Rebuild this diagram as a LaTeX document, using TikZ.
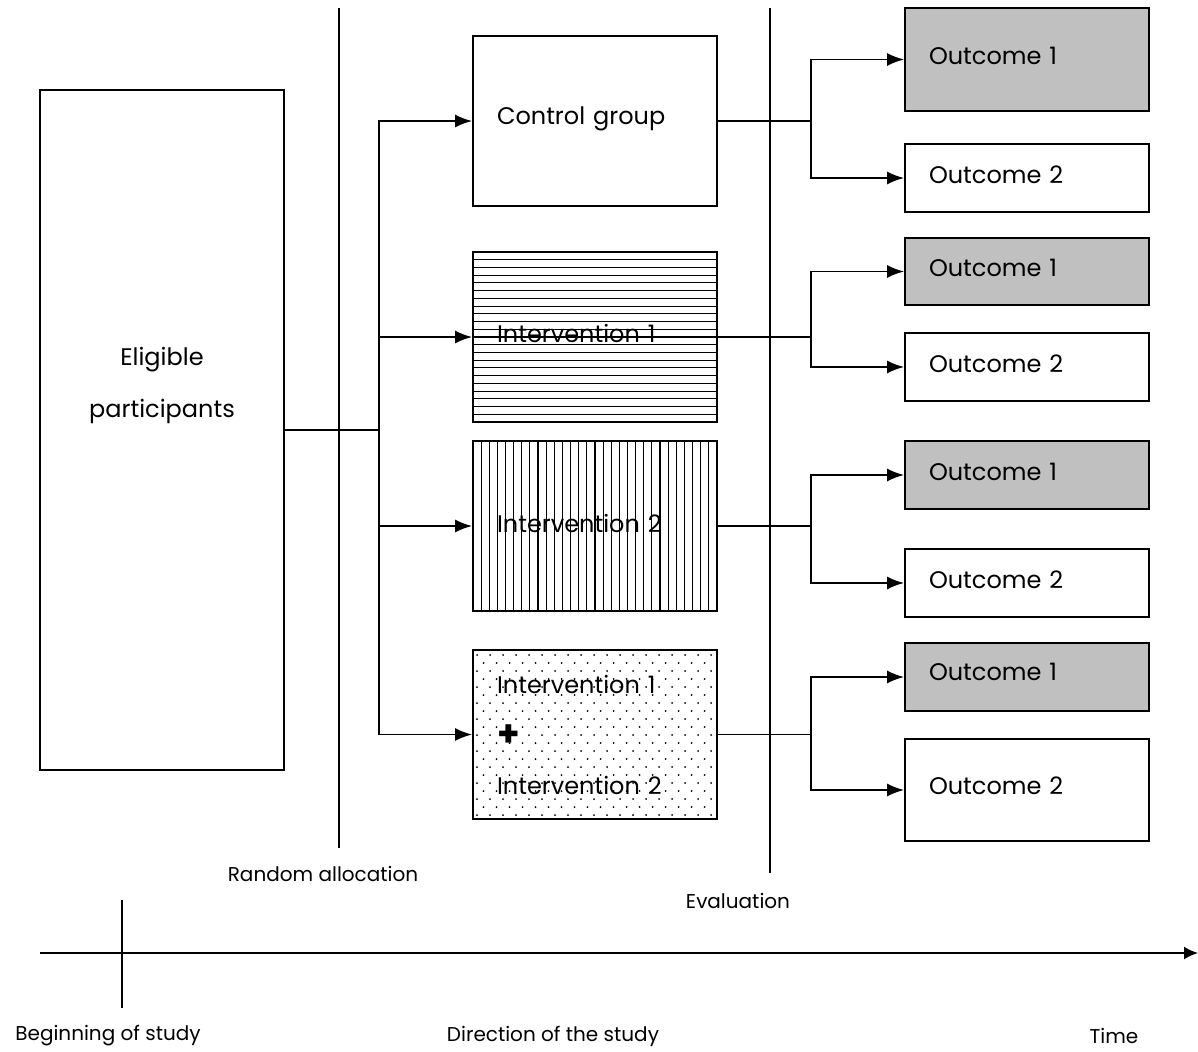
\documentclass[tikz,border=0pt]{standalone}
\usepackage{fontspec}
\setmainfont{Poppins}
\usetikzlibrary{arrows.meta}
\definecolor{outgrey}{RGB}{192,192,192}
\tikzset{
    box/.style={draw,line width=1.8pt,minimum width=244pt,inner xsep=24pt,
        text width=196pt,align=left,font=\fontsize{24}{28}\selectfont},
    hlines/.style={path picture={
        \foreach \k in {1,...,21}
            \draw[line width=1.1pt] ([yshift=\k*7.73pt]path picture bounding box.south west)
                -- ([yshift=\k*7.73pt]path picture bounding box.south east);}},
    vlines/.style={path picture={
        \foreach \k in {1,...,29}
            \draw[line width=1.1pt] ([xshift=\k*8.13pt]path picture bounding box.south west)
                -- ([xshift=\k*8.13pt]path picture bounding box.north west);}},
    dots/.style={path picture={
        \foreach \r in {0,...,21}
            \foreach \c in {0,...,19}
                \fill ([shift={({(\c*13+6.5*mod(\r,2)+4)*1pt},{(\r*8+4)*1pt})}]path picture bounding box.south west) circle (1pt);}},
    conn/.style={line width=1.8pt},
    arr/.style={conn,-{Latex[length=17pt,width=13pt]}},
    phase/.style={line width=1.4pt},
    lbl/.style={font=\fontsize{20}{24}\selectfont}
}
\begin{document}
\begin{tikzpicture}[x=1pt,y=-1pt]
    \useasboundingbox (0,0) rectangle (1198,1051);

    % time lines
    \draw[phase] (339,8) -- (339,848);
    \draw[phase] (770,8) -- (770,873);
    \node[lbl] (rand) at (323,874) {Random allocation};
    \node[lbl] (eval) at (738,901) {Evaluation};

    % participants and groups
    \node[draw,line width=1.8pt,minimum width=244pt,minimum height=680pt] (elig) at (162,430) {};
    \node[align=center,font=\fontsize{24}{52}\selectfont] (eligtxt) at (162,385) {Eligible\\participants};
    \node[box,minimum height=170pt,text depth=10pt] (ctrl) at (595,121) {Control group};
    \node[box,minimum height=170pt,hlines,text depth=8pt] (int1) at (595,337) {Intervention 1};
    \node[box,minimum height=170pt,vlines,text depth=5pt] (int2) at (595,526) {Intervention 2};
    \node[box,minimum height=169pt,dots] (both) at (595,734.5)
        {Intervention 1\\[25pt]{\fontsize{36}{28}\selectfont\bfseries +}\\[20pt]Intervention 2};

    \coordinate (split) at (379,430);
    \draw[conn] (elig.east) -- (split);
    \foreach \g in {ctrl,int1,int2,both}
        \draw[arr] (split) |- (\g.west);

    % outcomes
    \node[box,fill=outgrey,minimum height=103pt,text depth=7pt] (o11) at (1027,59.5) {Outcome 1};
    \node[box,minimum height=68pt,text depth=6pt] (o12) at (1027,178) {Outcome 2};
    \node[box,fill=outgrey,minimum height=67pt,text depth=7pt] (o21) at (1027,271.5) {Outcome 1};
    \node[box,minimum height=68pt,text depth=6pt] (o22) at (1027,367) {Outcome 2};
    \node[box,fill=outgrey,minimum height=68pt,text depth=6pt] (o31) at (1027,475) {Outcome 1};
    \node[box,minimum height=68pt,text depth=6pt] (o32) at (1027,583) {Outcome 2};
    \node[box,fill=outgrey,minimum height=68pt,text depth=10pt] (o41) at (1027,677) {Outcome 1};
    \node[box,minimum height=102pt,text depth=8pt] (o42) at (1027,790) {Outcome 2};

    \foreach \g/\n in {ctrl/1,int1/2,int2/3,both/4} {
        \draw[conn] (\g.east) -- ++(93,0) coordinate (r\n);
        \draw[arr] (r\n) |- (o\n1.west);
        \draw[arr] (r\n) |- (o\n2.west);
    }

    % time axis
    \coordinate (t0) at (40,953);
    \coordinate (t1) at (1198,953);
    \draw[conn,-{Latex[length=14pt,width=13pt]}] (t0) -- (t1);
    \draw[phase] (122,900) -- (122,1008);
    \node[lbl] (start) at (108,1036) {Beginning of study};
    \node[lbl] (dir) at (553,1036) {Direction of the study};
    \node[lbl] (time) at (1114,1036) {Time};
\end{tikzpicture}
\end{document}
